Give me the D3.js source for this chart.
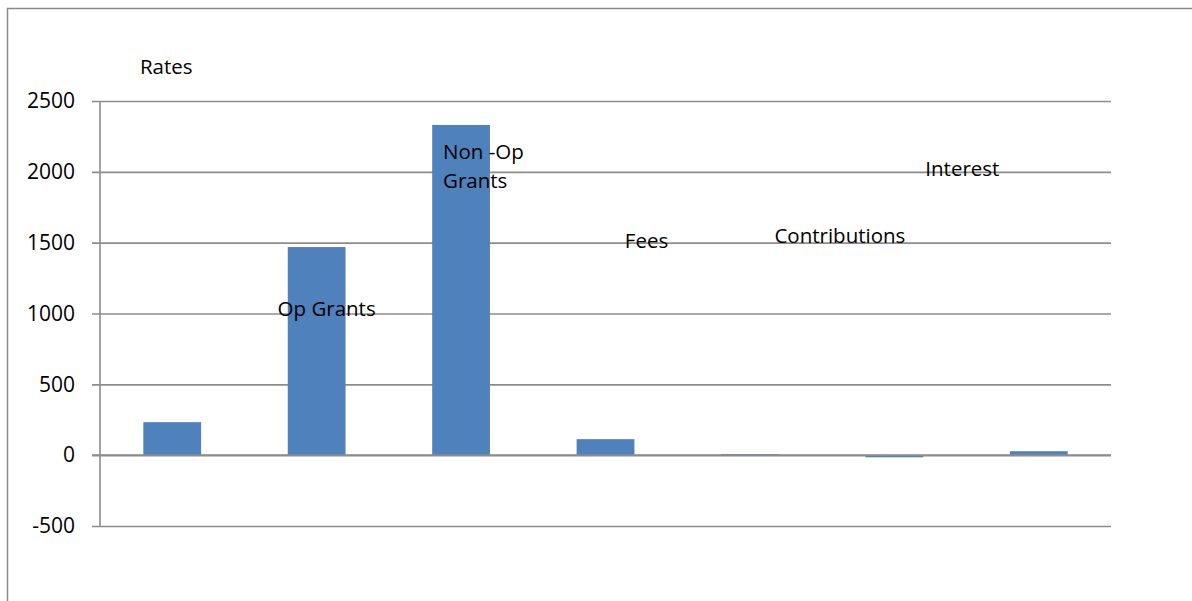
<!DOCTYPE html>
<html>
<head>
<meta charset="utf-8">
<script src="https://cdn.jsdelivr.net/npm/d3@7"></script>
<style>
  html, body { margin: 0; padding: 0; background: #fff; }
  svg { display: block; }
  text { font-family: "Open Sans", "DejaVu Sans", sans-serif; fill: #000; }
</style>
</head>
<body>
<svg id="chart" width="1192" height="601"></svg>
<script>
// ---- data ----
const categories = ["Rates", "Op Grants", "Non -Op Grants", "Fees", "Contributions", "Interest", "Other"];
const values = [233, 1469, 2331, 113, 7, -15, 28];
const tickValues = [-500, 0, 500, 1000, 1500, 2000, 2500];
// data labels (as placed in the original), lines per label
const labelLines = [["Rates"], ["Op Grants"], ["Non -Op", "Grants"], ["Fees"], ["Contributions"], ["Interest"], []];

// ---- layout ----
const W = 1192, H = 601;
const plot = { left: 100, right: 1111, top: 101, bottom: 526 };
const svg = d3.select("#chart");

// outer border
svg.append("rect")
  .attr("x", 7.5).attr("y", 8.5)
  .attr("width", W + 20).attr("height", H + 20)
  .attr("fill", "none").attr("stroke", "#8a8a8a").attr("stroke-width", 1.5);

const x = d3.scaleBand()
  .domain(categories)
  .range([plot.left, plot.right])
  .paddingInner(0.6)
  .paddingOuter(0.3);

const y = d3.scaleLinear()
  .domain([-500, 2500])
  .range([plot.bottom, plot.top]);

// gridlines + ticks
const yAxis = d3.axisLeft(y)
  .tickValues(tickValues)
  .tickSize(-(plot.right - plot.left))
  .tickSizeOuter(0)
  .tickPadding(17)
  .tickFormat(d => String(d));

const gy = svg.append("g")
  .attr("transform", `translate(${plot.left},0)`)
  .call(yAxis);
gy.select(".domain").remove();
gy.selectAll(".tick line")
  .attr("stroke", "#8c8c8c").attr("stroke-width", 1.6)
  .attr("x1", -8);
gy.selectAll(".tick text")
  .attr("x", -25)
  .style("font-size", "21px")
  .attr("fill", "#000");

// bars
svg.append("g").selectAll("rect")
  .data(values)
  .join("rect")
  .attr("x", (d, i) => x(categories[i]))
  .attr("width", x.bandwidth())
  .attr("y", d => y(Math.max(0, d)))
  .attr("height", d => Math.abs(y(d) - y(0)))
  .attr("fill", "#4F81BD");

// y axis line
svg.append("line")
  .attr("x1", plot.left).attr("x2", plot.left)
  .attr("y1", plot.top).attr("y2", plot.bottom)
  .attr("stroke", "#8c8c8c").attr("stroke-width", 1.6);

// zero line drawn on top
svg.append("line")
  .attr("x1", plot.left - 8).attr("x2", plot.right)
  .attr("y1", y(0)).attr("y2", y(0))
  .attr("stroke", "#8c8c8c").attr("stroke-width", 1.6);

// data labels (positions as they appear in original: value-space y, pixel dx from band centre)
const labelY = [2740, 1031, 2040, 1512, 1547, 2020, 0];
const labelDx = [-6, 10, -18, 41, 90, 68, 0];
const labelAnchor = ["middle", "middle", "start", "middle", "middle", "middle", "middle"];

const lg = svg.append("g");
labelLines.forEach((lines, i) => {
  if (!lines.length) return;
  const cx = x(categories[i]) + x.bandwidth() / 2 + labelDx[i];
  const cy = y(labelY[i]);
  const lh = 29;
  const t = lg.append("text")
    .attr("text-anchor", labelAnchor[i])
    .style("font-size", "20.5px");
  lines.forEach((s, k) => {
    t.append("tspan")
      .attr("x", cx)
      .attr("y", cy + (k - (lines.length - 1) / 2) * lh)
      .attr("dy", "0.35em")
      .text(s);
  });
});
</script>
</body>
</html>
